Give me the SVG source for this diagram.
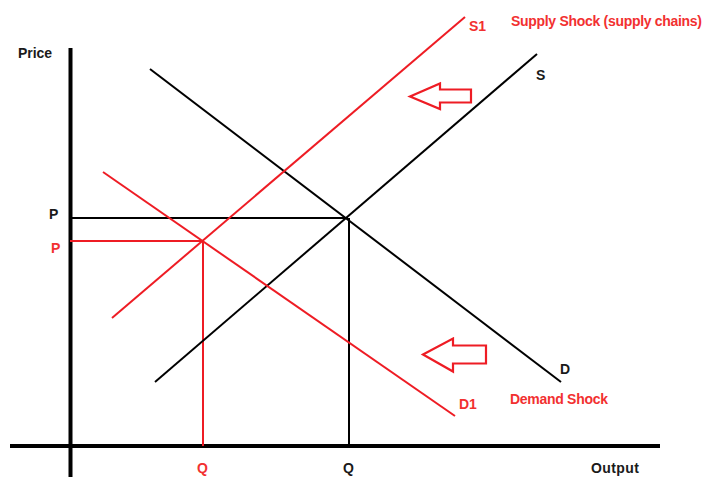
<svg xmlns="http://www.w3.org/2000/svg" width="704" height="477" viewBox="0 0 704 477">
<style>
.t{font-family:"Liberation Sans",Arial,sans-serif;font-weight:bold;font-size:14px}
.k{fill:#1a1a1a}
.r{fill:#f23030}
.bl{stroke:#000;stroke-width:2;fill:none}
.rl{stroke:#ee1c24;stroke-width:2;fill:none}
.ax{stroke:#000;stroke-width:4;fill:none}
.ar{stroke:#ee1c24;stroke-width:2.2;fill:#fff;stroke-linejoin:miter}
</style>
<rect width="704" height="477" fill="#fff"/>
<g id="connectors">
<line class="ax" x1="70.5" y1="48" x2="70.5" y2="477"/>
<line class="ax" x1="10" y1="446" x2="660" y2="446"/>
<line class="bl" x1="70" y1="218" x2="348" y2="218"/>
<line class="bl" x1="349" y1="218" x2="349" y2="446"/>
<line class="rl" x1="70" y1="241" x2="203" y2="241"/>
<line class="rl" x1="203" y1="241" x2="203" y2="446"/>
</g>
<g id="S"><line class="bl" x1="155" y1="382" x2="537" y2="54"/><text class="t k" x="536" y="80">S</text></g>
<g id="D"><line class="bl" x1="150" y1="69" x2="561" y2="382"/><text class="t k" x="560" y="374">D</text></g>
<g id="S1"><line class="rl" x1="112" y1="318" x2="465" y2="17"/><text class="t r" x="469" y="31">S1</text></g>
<g id="D1"><line class="rl" x1="103" y1="172" x2="455" y2="416"/><text class="t r" x="459" y="409">D1</text></g>
<g id="supply-arrow"><polygon class="ar" points="410,96.5 440,83.5 440,89.5 471,89.5 471,102.5 440,102.5 440,109"/></g>
<g id="demand-arrow"><polygon class="ar" points="423,354.5 453,338.5 453,345.5 486,345.5 486,363.5 453,363.5 453,371.5"/></g>
<g id="labels">
<text class="t k" x="18" y="57.5" textLength="34">Price</text>
<text class="t k" x="49" y="219">P</text>
<text class="t r" x="51" y="253">P</text>
<text class="t r" x="197" y="473">Q</text>
<text class="t k" x="343" y="473">Q</text>
<text class="t k" x="591" y="473" textLength="48">Output</text>
<text class="t r" x="511" y="26" textLength="191">Supply Shock (supply chains)</text>
<text class="t r" x="510" y="404" textLength="98">Demand Shock</text>
</g>
</svg>
